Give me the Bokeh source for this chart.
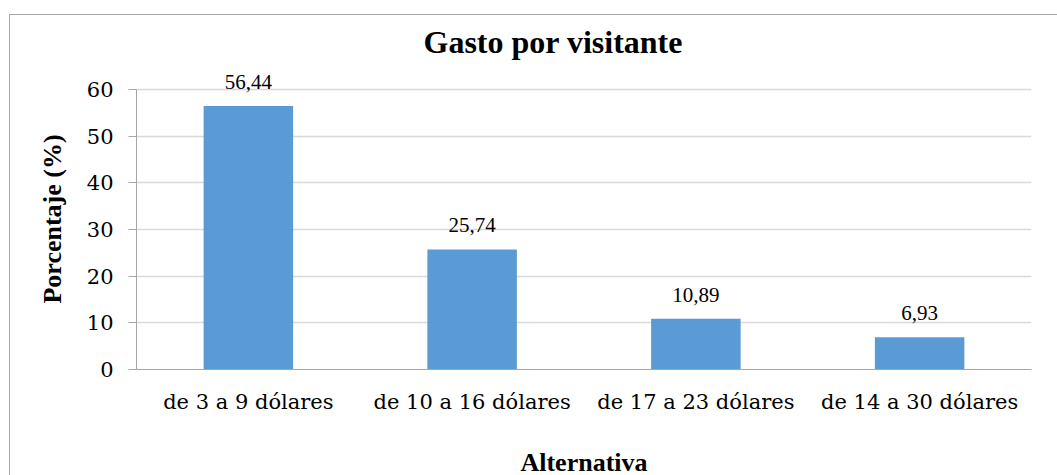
from bokeh.plotting import figure
from bokeh.models import ColumnDataSource, FactorRange, Range1d, FixedTicker, LabelSet, Title
from bokeh.embed import file_html
from bokeh.resources import INLINE

categories = ["de 3 a 9 dólares", "de 10 a 16 dólares", "de 17 a 23 dólares", "de 14 a 30 dólares"]
values = [56.44, 25.74, 10.89, 6.93]
y_ticks = [0, 10, 20, 30, 40, 50, 60]

labels = [f"{v:.2f}".replace(".", ",") for v in values]
source = ColumnDataSource(data=dict(cat=categories, val=values, lab=labels))

BOLD_FONT = "'Liberation Serif'"
REG_FONT = "'DejaVu Serif'"
REG_SIZE = "21px"

p = figure(
    x_range=FactorRange(*categories),
    y_range=Range1d(0, 64.5),
    frame_width=895, frame_height=301,
    min_border_left=126, min_border_right=26, min_border_top=53, min_border_bottom=106,
    output_backend="svg", toolbar_location=None,
)
p.margin = (14, 0, 0, 9)
p.styles = {"border-top": "1px solid #a6a6a6", "border-left": "1px solid #a6a6a6"}

p.title = Title(text="Gasto por visitante", align="left", offset=287,
                vertical_align="top",
                text_font=BOLD_FONT, text_font_size="32px", text_font_style="bold",
                text_color="#000000", standoff=13)

p.vbar(x="cat", top="val", width=0.4, source=source, color="#5B9BD5", line_color=None)

p.add_layout(LabelSet(x="cat", y="val", text="lab", source=source, text_align="center",
                      text_baseline="alphabetic", y_offset=17, text_font=REG_FONT,
                      text_font_size=REG_SIZE, text_color="#000000"))

p.outline_line_color = None
p.background_fill_color = "white"
p.border_fill_color = "white"

p.xgrid.grid_line_color = None
p.ygrid.grid_line_color = "#d9d9d9"
p.ygrid.grid_line_width = 1.3

p.yaxis.ticker = FixedTicker(ticks=y_ticks)
p.yaxis.bounds = (0, 60)
p.yaxis.axis_line_color = "#a6a6a6"
p.yaxis.major_tick_line_color = "#a6a6a6"
p.yaxis.major_tick_out = 8
p.yaxis.major_tick_in = 0
p.yaxis.minor_tick_line_color = None
p.yaxis.major_label_text_font = REG_FONT
p.yaxis.major_label_text_font_size = REG_SIZE
p.yaxis.major_label_text_color = "#000000"
p.yaxis.major_label_standoff = 15
p.yaxis.axis_label = "Porcentaje (%)"
p.yaxis.axis_label_text_font = BOLD_FONT
p.yaxis.axis_label_text_font_size = "26px"
p.yaxis.axis_label_text_font_style = "bold"
p.yaxis.axis_label_text_color = "#000000"
p.yaxis.axis_label_standoff = 17

p.xaxis.axis_line_color = "#a6a6a6"
p.xaxis.major_tick_line_color = None
p.xaxis.major_tick_out = 0
p.xaxis.minor_tick_line_color = None
p.xaxis.major_label_text_font = REG_FONT
p.xaxis.major_label_text_font_size = REG_SIZE
p.xaxis.major_label_text_color = "#000000"
p.xaxis.major_label_standoff = 20
p.xaxis.axis_label = "Alternativa"
p.xaxis.axis_label_text_font = BOLD_FONT
p.xaxis.axis_label_text_font_size = "26px"
p.xaxis.axis_label_text_font_style = "bold"
p.xaxis.axis_label_text_color = "#000000"
p.xaxis.axis_label_standoff = 31

open("out.html", "w").write(file_html(p, INLINE))
